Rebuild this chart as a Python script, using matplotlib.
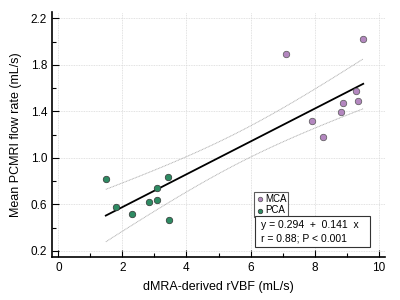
import numpy as np
import matplotlib
matplotlib.use("Agg")
import matplotlib.pyplot as plt
import matplotlib.ticker as ticker
from matplotlib.patches import Rectangle

plt.rcParams["font.family"] = ["Liberation Sans", "DejaVu Sans"]

# --- Data ---
mca_x = [7.10, 9.52, 9.28, 8.88, 9.36, 8.83, 7.92, 8.27]
mca_y = [1.893, 2.024, 1.574, 1.474, 1.491, 1.394, 1.314, 1.176]
pca_x = [1.48, 1.80, 2.30, 2.84, 3.08, 3.07, 3.42, 3.45]
pca_y = [0.817, 0.576, 0.516, 0.616, 0.742, 0.639, 0.832, 0.462]

intercept = 0.294
slope = 0.141

MCA_COLOR = "#B387BF"
PCA_COLOR = "#2E8B63"
FS = 8.5

x_all = np.array(mca_x + pca_x)
y_all = np.array(mca_y + pca_y)

# 95% confidence band of the regression line
n = len(x_all)
resid = y_all - (intercept + slope * x_all)
s = np.sqrt(np.sum(resid ** 2) / (n - 2))
t_val = 2.145  # t(0.975, 14)
xs = np.linspace(x_all.min(), x_all.max(), 100)
fit = intercept + slope * xs
se = s * np.sqrt(1 / n + (xs - x_all.mean()) ** 2 / np.sum((x_all - x_all.mean()) ** 2))

fig = plt.figure(figsize=(4, 3), dpi=100)
ax = fig.add_axes([0.13, 0.142, 0.8325, 0.818])

ax.plot(xs, fit + t_val * se, color="#b0b0b0", lw=0.7, ls=(0, (1, 0.6)))
ax.plot(xs, fit - t_val * se, color="#b0b0b0", lw=0.7, ls=(0, (1, 0.6)))
ax.plot(xs, fit, color="black", lw=1.3)

ax.scatter(mca_x, mca_y, s=22, color=MCA_COLOR, edgecolors="#555555",
           linewidths=0.5, zorder=5, label="MCA")
ax.scatter(pca_x, pca_y, s=22, color=PCA_COLOR, edgecolors="#333333",
           linewidths=0.5, zorder=5, label="PCA")

ax.set_xlim(-0.2, 10.2)
ax.set_ylim(0.143, 2.254)
ax.xaxis.set_major_locator(ticker.MultipleLocator(2))
ax.xaxis.set_minor_locator(ticker.MultipleLocator(1))
ax.yaxis.set_major_locator(ticker.FixedLocator([0.2, 0.6, 1.0, 1.4, 1.8, 2.2]))
ax.yaxis.set_minor_locator(ticker.FixedLocator([0.4, 0.8, 1.2, 1.6, 2.0]))
ax.yaxis.set_major_formatter(ticker.FormatStrFormatter("%.1f"))
ax.tick_params(which="both", direction="in", labelsize=FS, width=0.8)
ax.tick_params(which="major", length=5)
ax.tick_params(which="minor", length=3)

ax.grid(True, which="major", ls=(0, (1, 1)), color="#d8d8d8", lw=0.6)
ax.set_axisbelow(True)
ax.spines["top"].set_visible(False)
ax.spines["right"].set_visible(False)
for sp in ("left", "bottom"):
    ax.spines[sp].set_linewidth(1.2)

ax.set_xlabel("dMRA-derived rVBF (mL/s)", fontsize=FS + 0.5, labelpad=5)
ax.set_ylabel("Mean PCMRI flow rate (mL/s)", fontsize=FS + 0.5, labelpad=6)

leg = ax.legend(loc="upper left", bbox_to_anchor=(0.607, 0.2665), fontsize=7,
                frameon=True, fancybox=False, edgecolor="#333333",
                handletextpad=0.1, borderpad=0.2, labelspacing=0.15,
                handlelength=0.8, borderaxespad=0, markerscale=0.7)
leg.get_frame().set_linewidth(0.8)

# Regression equation box
ax.add_patch(Rectangle((0.61, 0.042), 0.345, 0.127, transform=ax.transAxes,
                       facecolor="white", edgecolor="#333333", lw=0.8,
                       zorder=6))
ax.text(0.628, 0.105, "y = 0.294  +  0.141  x\nr = 0.88; P < 0.001",
        transform=ax.transAxes, fontsize=7.5, va="center", ha="left",
        linespacing=1.35, zorder=7)

fig.savefig("out.png", dpi=100)
